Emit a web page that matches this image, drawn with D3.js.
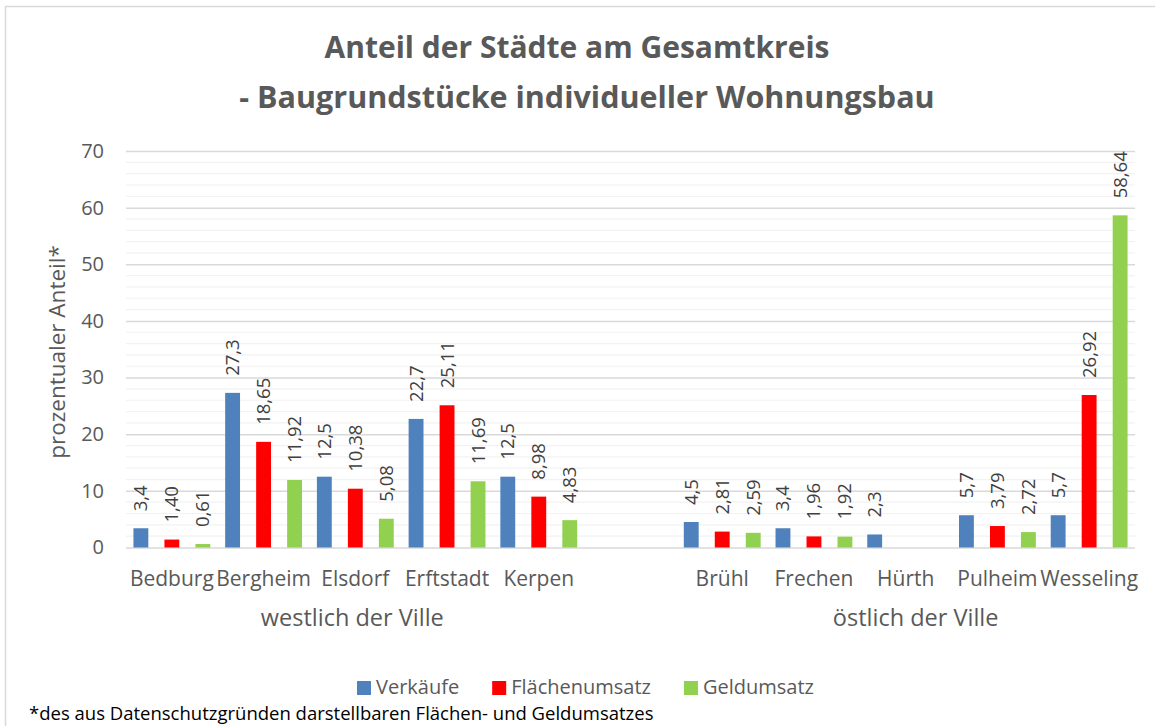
<!DOCTYPE html>
<html>
<head>
<meta charset="utf-8">
<script src="https://cdn.jsdelivr.net/npm/d3@7"></script>
<style>
  body { margin: 0; background: #fff; }
  text { font-family: "Open Sans", sans-serif; }
</style>
</head>
<body>
<div id="wrapper"></div>
<script>
// chart values
var categories = ["Bedburg", "Bergheim", "Elsdorf", "Erftstadt", "Kerpen", "", "Brühl", "Frechen", "Hürth", "Pulheim", "Wesseling"];
var verkaeufe = [3.4, 27.3, 12.5, 22.7, 12.5, null, 4.5, 3.4, 2.3, 5.7, 5.7];
var flaechenumsatz = [1.40, 18.65, 10.38, 25.11, 8.98, null, 2.81, 1.96, null, 3.79, 26.92];
var geldumsatz = [0.61, 11.92, 5.08, 11.69, 4.83, null, 2.59, 1.92, null, 2.72, 58.64];
var seriesNames = ["Verkäufe", "Flächenumsatz", "Geldumsatz"];
var seriesColors = ["#4f81bd", "#ff0000", "#92d050"];
var seriesFormats = [".1f", ".2f", ".2f"];
var groupNames = ["westlich der Ville", "östlich der Ville"];
var groupFirst = [0, 6];
var groupLast = [4, 10];
var yTicks = [0, 10, 20, 30, 40, 50, 60, 70];

var series = [verkaeufe, flaechenumsatz, geldumsatz];

function draw() {
    var parent = d3.select("#wrapper")
    parent.selectAll('*').remove()

    var width = 1155;
    var height = 726;
    var svg = parent.append("svg")
        .attr("width", width)
        .attr("height", height)

    // chart frame
    svg.append("rect")
        .attr("x", 5.5).attr("y", 6.5)
        .attr("width", 1160).attr("height", 730)
        .attr("fill", "none")
        .attr("stroke", "#d9d9d9")
        .attr("stroke-width", 1.5)

    var x = d3.scaleBand()
        .domain(d3.range(categories.length))
        .range([126, 1135])
    var xs = d3.scaleBand()
        .domain(d3.range(seriesNames.length))
        .range([0, x.bandwidth()])
        .paddingInner(0.52)
        .paddingOuter(0.24)
    var y = d3.scaleLinear()
        .domain([0, 70])
        .range([547.5, 151])

    // minor gridlines
    svg.append("g")
        .selectAll("line")
        .data(d3.range(0, 71, 2).filter(function(v){ return v % 10 != 0 }))
        .join("line")
        .attr("x1", 126).attr("x2", 1135)
        .attr("y1", function(d){ return y(d) }).attr("y2", function(d){ return y(d) })
        .attr("stroke", "#f2f2f2")
        .attr("stroke-width", 1.2)

    // major gridlines + labels
    var yAxis = d3.axisLeft(y)
        .tickValues(yTicks)
        .tickSize(-(1135 - 126))
        .tickPadding(22)
        .tickFormat(d3.format("d"))
    var gy = svg.append("g")
        .attr("transform", "translate(126,0)")
        .call(yAxis)
    gy.select(".domain").remove()
    gy.selectAll(".tick line").attr("stroke", "#d9d9d9").attr("stroke-width", 1.5)
    gy.selectAll(".tick text")
        .attr("fill", "#595959")
        .style("font-size", "20px")

    svg.append("text")
        .attr("transform", "translate(65,352) rotate(-90)")
        .attr("text-anchor", "middle")
        .attr("fill", "#595959")
        .style("font-size", "22.5px")
        .text("prozentualer Anteil*")

    // bars
    series.forEach(function(vals, si) {
        var g = svg.append("g")
        var data = vals.map(function(v, i){ return {i: i, v: v} }).filter(function(d){ return d.v != null })
        g.selectAll("rect")
            .data(data)
            .join("rect")
            .attr("x", function(d){ return x(d.i) + xs(si) })
            .attr("width", xs.bandwidth())
            .attr("y", function(d){ return y(d.v) })
            .attr("height", function(d){ return y(0) - y(d.v) })
            .attr("fill", seriesColors[si])
        var fmt = d3.format(seriesFormats[si])
        g.selectAll("text")
            .data(data)
            .join("text")
            .attr("transform", function(d){
                return "translate(" + (x(d.i) + xs(si) + xs.bandwidth() / 2) + "," + (y(d.v) - 17) + ") rotate(-90)"
            })
            .attr("dy", "0.35em")
            .attr("fill", "#404040")
            .style("font-size", "18.5px")
            .text(function(d){ return fmt(d.v).replace(".", ",") })
    })

    // category labels
    svg.append("g")
        .selectAll("text")
        .data(categories.map(function(c, i){ return {c: c, i: i} }))
        .join("text")
        .attr("x", function(d){ return x(d.i) + x.bandwidth() / 2 })
        .attr("y", 586)
        .attr("text-anchor", "middle")
        .attr("fill", "#595959")
        .style("font-size", "21px")
        .text(function(d){ return d.c })

    // group labels
    svg.append("g")
        .selectAll("text")
        .data(groupNames)
        .join("text")
        .attr("x", function(d, i){ return (x(groupFirst[i]) + x(groupLast[i]) + x.bandwidth()) / 2 + (i == 1 ? 10 : -3) })
        .attr("y", 626)
        .attr("text-anchor", "middle")
        .attr("fill", "#595959")
        .style("font-size", "23.5px")
        .text(function(d){ return d })

    // title
    svg.append("text")
        .attr("x", 577).attr("y", 58)
        .attr("text-anchor", "middle")
        .attr("fill", "#595959")
        .style("font-size", "30px")
        .style("font-weight", "bold")
        .text("Anteil der Städte am Gesamtkreis")
    svg.append("text")
        .attr("x", 587).attr("y", 108)
        .attr("text-anchor", "middle")
        .attr("fill", "#595959")
        .style("font-size", "30.5px")
        .style("font-weight", "bold")
        .text("- Baugrundstücke individueller Wohnungsbau")

    // legend
    var legend = svg.append("g")
    var lx = 357
    seriesNames.forEach(function(name, i) {
        legend.append("rect")
            .attr("x", lx).attr("y", 681)
            .attr("width", 14).attr("height", 14)
            .attr("fill", seriesColors[i])
        var t = legend.append("text")
            .attr("x", lx + 19).attr("y", 694)
            .attr("fill", "#595959")
            .style("font-size", "20px")
            .text(name)
        lx += 19 + t.node().getComputedTextLength() + 33
    })

    svg.append("text")
        .attr("x", 29).attr("y", 720)
        .attr("fill", "#000")
        .style("font-size", "18.5px")
        .text("*des aus Datenschutzgründen darstellbaren Flächen- und Geldumsatzes")
}
draw()
</script>
</body>
</html>
